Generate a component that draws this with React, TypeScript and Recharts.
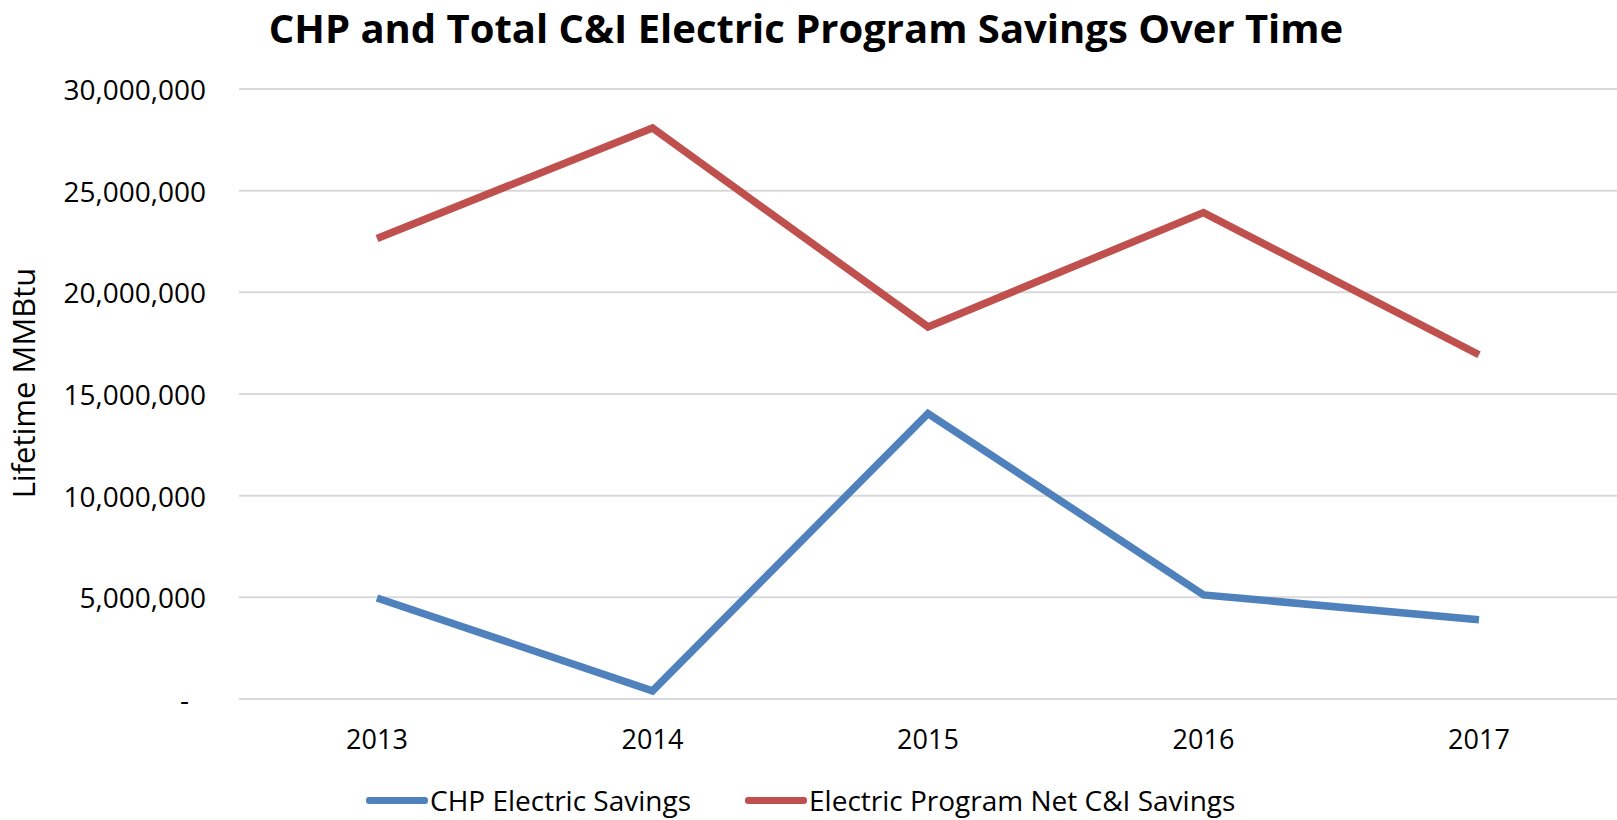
import { LineChart, Line, XAxis, YAxis, CartesianGrid } from "recharts";

const years = ["2013", "2014", "2015", "2016", "2017"];
const chpElectricSavings = [4970000, 400000, 14040000, 5120000, 3900000];
const netCISavings = [22650000, 28080000, 18300000, 23920000, 16930000];
const yTicks = [0, 5000000, 10000000, 15000000, 20000000, 25000000, 30000000];

const series = [
  { key: "chp", name: "CHP Electric Savings", color: "#4f81bd" },
  { key: "net", name: "Electric Program Net C&I Savings", color: "#c0504d" },
];

const data = years.map((year, i) => ({
  year,
  chp: chpElectricSavings[i],
  net: netCISavings[i],
}));

const FONT = "'Open Sans', sans-serif";

const YTick = (props: any) => {
  const { x, y, payload } = props;
  const v = payload.value as number;
  const label = v === 0 ? "-" : v.toLocaleString("en-US");
  return (
    <text
      x={v === 0 ? x - 17 : x}
      y={y}
      textAnchor="end"
      dominantBaseline="central"
      fontFamily={FONT}
      fontSize={28}
      fill="#000"
    >
      {label}
    </text>
  );
};

function ChartLegend() {
  return (
    <div
      style={{
        position: "absolute",
        top: 782,
        left: 0,
        width: 1617,
        display: "flex",
        paddingLeft: 366,
        fontSize: 28,
      }}
    >
      {series.map((s, i) => (
        <div
          key={s.key}
          style={{ display: "flex", alignItems: "center", marginRight: i === 0 ? 54 : 0 }}
        >
          <span
            style={{
              display: "inline-block",
              width: 62,
              height: 7,
              borderRadius: 3,
              background: s.color,
              marginRight: 2,
            }}
          />
          <span style={{ color: "#000", lineHeight: "36px" }}>{s.name}</span>
        </div>
      ))}
    </div>
  );
}

export default function App() {
  return (
    <div
      style={{
        position: "absolute",
        left: 0,
        top: 0,
        width: 1617,
        height: 820,
        background: "#fff",
        fontFamily: FONT,
      }}
    >
      <div
        style={{
          position: "absolute",
          top: 0,
          left: 0,
          width: 1612,
          textAlign: "center",
          fontSize: 40,
          fontWeight: 700,
          lineHeight: "55px",
          color: "#000",
        }}
      >
        CHP and Total C&amp;I Electric Program Savings Over Time
      </div>
      <LineChart
        width={1617}
        height={820}
        data={data}
        margin={{ top: 89, right: 0, bottom: 0, left: 0 }}
      >
        <CartesianGrid vertical={false} stroke="#d9d9d9" strokeWidth={2} />
        <XAxis
          dataKey="year"
          axisLine={false}
          tickLine={false}
          tickSize={0}
          tickMargin={31}
          padding={{ left: 138, right: 138 }}
          tick={{ fontFamily: FONT, fontSize: 27, fill: "#000" }}
          height={121}
        />
        <YAxis
          width={239}
          domain={[0, 30000000]}
          ticks={yTicks}
          axisLine={false}
          tickLine={false}
          tickSize={0}
          tickMargin={33}
          tick={<YTick />}
          label={(p: any) => {
            const vb = p.viewBox;
            const cx = vb.x + 23;
            const cy = vb.y + vb.height / 2 - 11;
            return (
              <text
                x={cx}
                y={cy}
                transform={`rotate(-90 ${cx} ${cy})`}
                textAnchor="middle"
                dominantBaseline="central"
                fontFamily={FONT}
                fontSize={31}
                fill="#000"
              >
                Lifetime MMBtu
              </text>
            );
          }}
        />
        {series.map((s) => (
          <Line
            key={s.key}
            type="linear"
            dataKey={s.key}
            name={s.name}
            stroke={s.color}
            strokeWidth={7.5}
            dot={false}
            isAnimationActive={false}
          />
        ))}
      </LineChart>
      <ChartLegend />
    </div>
  );
}
